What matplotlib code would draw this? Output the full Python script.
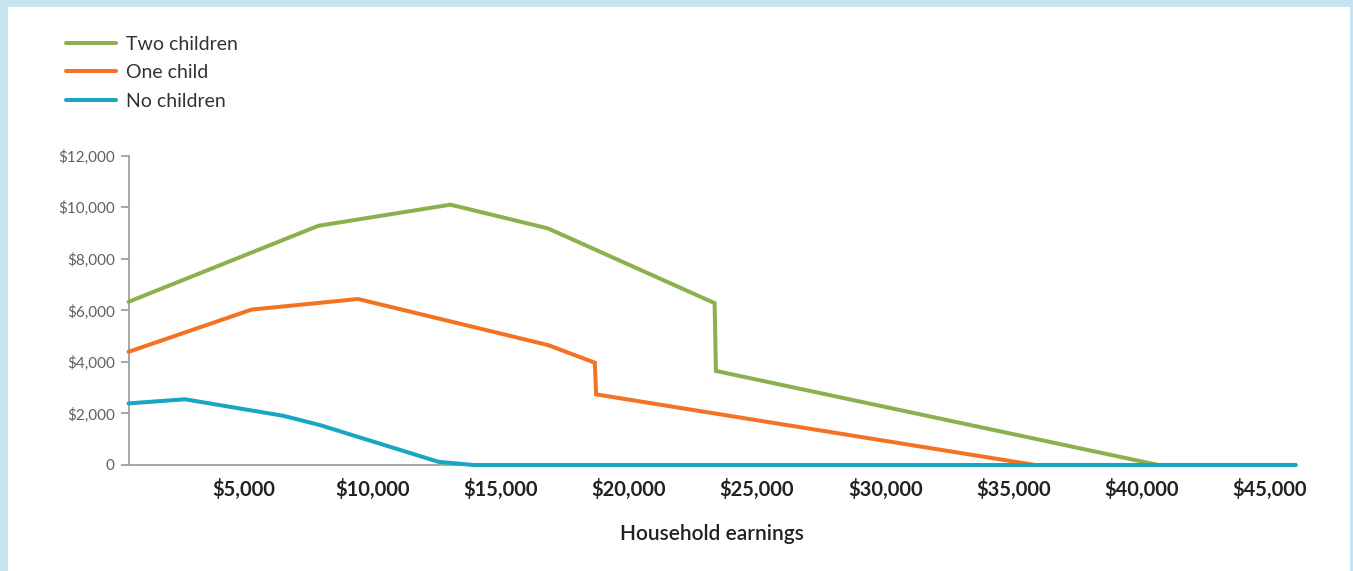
import matplotlib
matplotlib.use("Agg")
import matplotlib.pyplot as plt
from matplotlib.patches import Rectangle
from matplotlib.ticker import FuncFormatter

# values (household earnings in $, credit in $)
two_x = [500, 7900, 13050, 16850, 23350, 23400, 40650, 46000]
two_y = [6330, 9280, 10100, 9180, 6280, 3650, 0, 0]

one_x = [500, 5300, 9450, 16850, 18680, 18730, 35850, 46000]
one_y = [4390, 6030, 6440, 4655, 3970, 2740, 0, 0]

none_x = [500, 2700, 6530, 7960, 12580, 13930, 46000]
none_y = [2390, 2550, 1910, 1550, 125, 0, 0]

labels = ["Two children", "One child", "No children"]
colors = ["#8bb14f", "#f47322", "#18a6c1"]

x_ticks = [5000, 10000, 15000, 20000, 25000, 30000, 35000, 40000, 45000]
y_ticks = [0, 2000, 4000, 6000, 8000, 10000, 12000]

W, H = 1353, 571
fig = plt.figure(figsize=(W / 100, H / 100), dpi=100, facecolor="#c6e3ef")
# white panel inside the light blue frame
fig.add_artist(Rectangle((8 / W, 0), (1350 - 8) / W, (H - 7) / H,
                         transform=fig.transFigure, facecolor="white",
                         edgecolor="none", zorder=0))

ax = fig.add_axes([128.5 / W, (H - 465) / H, (1295.6 - 128.5) / W, (465 - 155.7) / H])
ax.set_facecolor("none")

lines = []
for xs, ys, lab, c in zip([two_x, one_x, none_x], [two_y, one_y, none_y], labels, colors):
    ln, = ax.plot(xs, ys, color=c, lw=2.9, label=lab, solid_joinstyle="miter",
                  solid_capstyle="round", clip_on=False, zorder=3)
    lines.append(ln)

ax.set_xlim(500, 46000)
ax.set_ylim(0, 12000)
ax.set_xticks(x_ticks)
ax.set_yticks(y_ticks)
ax.xaxis.set_major_formatter(FuncFormatter(lambda v, p: f"${v:,.0f}"))
ax.yaxis.set_major_formatter(FuncFormatter(lambda v, p: "0" if v == 0 else f"${v:,.0f}"))

for s in ["top", "right"]:
    ax.spines[s].set_visible(False)
for s in ["left", "bottom"]:
    ax.spines[s].set_color("#a0a0a0")
    ax.spines[s].set_linewidth(1.3)

ax.tick_params(axis="y", length=6, width=1.3, color="#a0a0a0", pad=4,
               labelsize=11, labelcolor="#606060")
ax.tick_params(axis="x", length=0, pad=10, labelsize=14.5, labelcolor="#222222")
for t in ax.get_yticklabels():
    t.set_fontfamily("Lato")
for t in ax.get_xticklabels():
    t.set_fontfamily("Lato")
    t.set_fontweight("bold")

ax.set_xlabel("Household earnings", fontsize=15, color="#222222", labelpad=17,
              fontfamily="Lato", fontweight="semibold")

leg = fig.legend(handles=lines, loc="upper left", bbox_to_anchor=(48 / W, 1 - 18 / H),
                 frameon=False, handlelength=2.6, handletextpad=0.5,
                 labelspacing=0.6, prop={"family": "Lato", "size": 14})
for t in leg.get_texts():
    t.set_color("#333333")

fig.savefig("out.png", dpi=100, facecolor=fig.get_facecolor())
